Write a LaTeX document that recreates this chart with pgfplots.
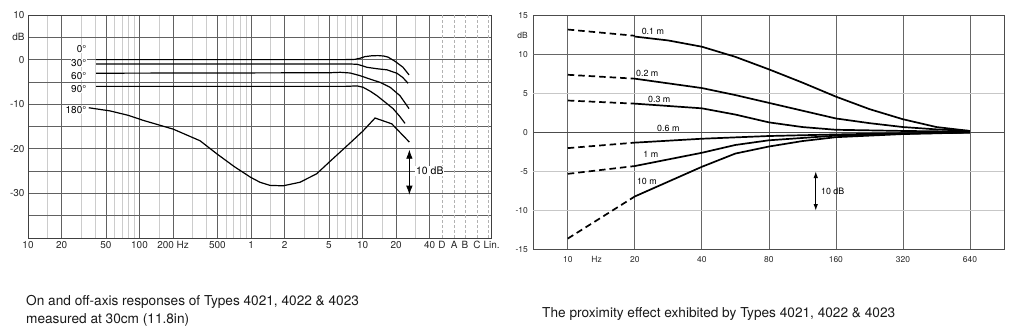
\documentclass[border=0pt]{standalone}
\usepackage{fontspec}
\setmainfont{TeX Gyre Heros}
\usepackage{pgfplots}
\pgfplotsset{compat=1.18}
\usetikzlibrary{arrows.meta}

\begin{document}
\begin{tikzpicture}[x=1bp,y=1bp]
\useasboundingbox (0,0) rectangle (1024,330);
% ---------------- left chart ----------------
\begin{axis}[
  at={(28bp,92bp)}, anchor=south west,
  scale only axis, width=463bp, height=223bp,
  xmin=1, xmax=5.152, ymin=-40, ymax=10,
  clip=false,
  axis line style={draw=black!75, line width=0.8bp},
  major tick length=0pt, minor tick length=0pt,
  grid=both,
  major grid style={draw=black!62, line width=0.7bp},
  minor grid style={draw=black!20, line width=0.8bp},
  xtick={1,1.30103,1.69897,2,2.30103,2.69897,3,3.30103,3.69897,4,4.30103,4.60206},
  xticklabels={10,20,50,100,200 Hz,500,1,2,5,10,20,40},
  minor xtick={1.17609,1.47712,1.60206,1.77815,1.84510,1.90309,1.95424,
               2.17609,2.47712,2.60206,2.77815,2.84510,2.90309,2.95424,
               3.17609,3.47712,3.60206,3.77815,3.84510,3.90309,3.95424,
               4.17609,4.47712},
  extra x ticks={4.713,4.821,4.919,5.027,5.126},
  extra x tick labels={D,A,B,C,\hspace*{7bp}Lin.},
  extra x tick style={grid=major, major grid style={draw=black!30, dash pattern=on 3bp off 2bp, line width=0.7bp}},
  ytick={-40,-35,...,10},
  yticklabels={,,-30,,-20,,-10,,0,dB,10},
  tick label style={font=\fontsize{10}{12}\selectfont, text=black!85},
]
\addplot[black, line width=1.2bp] coordinates {(1.61,0) (3.85,0) (3.93,0.05) (3.978,0.3) (4.022,0.67) (4.08,0.85) (4.139,0.9) (4.19,0.8) (4.229,0.56) (4.291,-0.38) (4.363,-1.73) (4.417,-3.43)};
\addplot[black, line width=1.2bp] coordinates {(1.61,-1.0) (3.90,-1.0) (3.951,-1.05) (4.00,-1.4) (4.040,-1.73) (4.13,-2.05) (4.220,-2.3) (4.309,-3.07) (4.36,-4.0) (4.408,-5.3)};
\addplot[black, line width=1.2bp] coordinates {(1.61,-3.05) (3.70,-2.95) (3.80,-2.85) (3.888,-3.0) (3.978,-3.6) (4.07,-4.4) (4.157,-5.1) (4.247,-6.2) (4.336,-8.1) (4.417,-11.0)};
\addplot[black, line width=1.2bp] coordinates {(1.61,-6.0) (3.85,-6.0) (3.951,-5.9) (4.004,-6.2) (4.07,-7.1) (4.130,-8.1) (4.220,-9.9) (4.274,-11.0) (4.336,-12.8) (4.381,-14.3)};
\addplot[black, line width=1.2bp] coordinates {(1.545,-10.8) (1.735,-11.5) (1.90,-12.5) (2.03,-13.6) (2.303,-15.6) (2.543,-18.2) (2.692,-21.1) (2.85,-24.0) (2.997,-26.4) (3.08,-27.5) (3.170,-28.2) (3.287,-28.3) (3.439,-27.5) (3.589,-25.6) (3.709,-22.8) (3.888,-18.7) (4.004,-16.0) (4.112,-13.1) (4.262,-14.4) (4.420,-18.5)};
\begin{scope}[every node/.style={anchor=east, fill=white, inner sep=0.6bp, font=\fontsize{10}{12}\selectfont}]
\node at (axis cs:1.53,2.4) {0°};
\node at (axis cs:1.53,-0.75) {30°};
\node at (axis cs:1.53,-3.6) {60°};
\node at (axis cs:1.53,-6.65) {90°};
\node at (axis cs:1.53,-11.3) {180°};
\end{scope}
\draw[black, line width=0.8bp, {Latex[length=9bp,width=6.5bp]}-{Latex[length=9bp,width=6.5bp]}] (axis cs:4.42,-20.2) -- (axis cs:4.42,-30.3);
\node[anchor=west, fill=white, inner sep=1bp, font=\fontsize{10.5}{12}\selectfont] at (axis cs:4.47,-25) {10 dB};
\end{axis}
% ---------------- right chart ----------------
\begin{axis}[
  at={(533.3bp,80.5bp)}, anchor=south west,
  scale only axis, width=471bp, height=234bp,
  xmin=-0.514, xmax=6.513, ymin=-15, ymax=15,
  clip=false,
  axis line style={draw=black!70, line width=0.8bp},
  major tick length=0pt,
  xtick={0,...,6}, xticklabels={10,20,40,80,160,320,640},
  xmajorgrids, major grid style={draw=black!60, line width=0.7bp},
  extra x ticks={0.43}, extra x tick labels={Hz}, extra x tick style={grid=none},
  ytick={-15,-10,-5,0,5,10,12.5,15}, yticklabels={-15,-10,-5,0,5,10,dB,15},
  tick label style={font=\fontsize{8.5}{10}\selectfont, text=black!85},
  xticklabel style={yshift=-3bp}, yticklabel style={xshift=-2bp},
]
\draw[black!60, line width=0.7bp] (axis cs:-0.514,10) -- (axis cs:6.513,10);
\draw[black!70, line width=0.7bp] (axis cs:-0.514,0) -- (axis cs:6.513,0);
\draw[black!22, line width=1.1bp] (axis cs:-0.514,5) -- (axis cs:6.513,5);
\draw[black!22, line width=1.1bp] (axis cs:-0.514,-5) -- (axis cs:6.513,-5);
\draw[black!22, line width=1.1bp] (axis cs:-0.514,-10) -- (axis cs:6.513,-10);
% dashed extrapolations
\addplot[black, line width=1.7bp, dash pattern=on 6.5bp off 4bp] coordinates {(0,13.2) (1,12.4)};
\addplot[black, line width=1.7bp, dash pattern=on 6.5bp off 4bp] coordinates {(0,7.4) (1,6.9)};
\addplot[black, line width=1.7bp, dash pattern=on 6.5bp off 4bp] coordinates {(0,4.1) (1,3.7)};
\addplot[black, line width=1.7bp, dash pattern=on 6.5bp off 4bp] coordinates {(0,-2.0) (1,-1.3)};
\addplot[black, line width=1.7bp, dash pattern=on 6.5bp off 4bp] coordinates {(0,-5.3) (1,-4.3)};
\addplot[black, line width=1.7bp, dash pattern=on 6.5bp off 4bp] coordinates {(0,-13.6) (1,-8.2)};
% measured
\addplot[black, line width=1.7bp] coordinates {(1,12.3) (1.5,11.8) (2,11.0) (2.5,9.7) (3,8.1) (3.5,6.4) (4,4.6) (4.5,3.0) (5,1.7) (5.5,0.7) (6,0.2)};
\addplot[black, line width=1.7bp] coordinates {(1,6.9) (2,5.7) (2.5,4.8) (3,3.8) (3.5,2.8) (4,1.8) (4.5,1.2) (5,0.7) (5.5,0.4) (6,0.2)};
\addplot[black, line width=1.7bp] coordinates {(1,3.7) (2,3.1) (2.5,2.3) (3,1.3) (3.5,0.7) (4,0.35) (5,0.2) (6,0.1)};
\addplot[black, line width=1.7bp] coordinates {(1,-1.3) (2,-0.8) (3,-0.45) (4,-0.25) (5,-0.1) (6,0)};
\addplot[black, line width=1.7bp] coordinates {(1,-4.3) (2,-2.6) (2.5,-1.6) (3,-1.0) (4,-0.4) (5,-0.15) (6,0)};
\addplot[black, line width=1.7bp] coordinates {(1,-8.2) (2,-4.4) (2.5,-2.7) (3,-1.8) (3.5,-1.1) (4,-0.6) (5,-0.2) (6,0)};
\begin{scope}[every node/.style={inner sep=0.5bp, font=\fontsize{8.9}{10}\selectfont}]
\node at (axis cs:1.27,13.0) {0.1 m};
\node at (axis cs:1.185,7.56) {0.2 m};
\node at (axis cs:1.365,4.23) {0.3 m};
\node at (axis cs:1.50,0.51) {0.6 m};
\node at (axis cs:1.24,-2.82) {1 m};
\node at (axis cs:1.18,-6.24) {10 m};
\end{scope}
\draw[black, line width=0.8bp, {Latex[length=6.5bp,width=4.5bp]}-{Latex[length=6.5bp,width=4.5bp]}] (axis cs:3.70,-5) -- (axis cs:3.70,-10);
\node[anchor=west, inner sep=0.5bp, font=\fontsize{8.9}{10}\selectfont] at (axis cs:3.77,-7.5) {10 dB};
\end{axis}
% ---------------- captions ----------------
\node[anchor=base west, inner sep=0pt, font=\fontsize{13.7}{16}\selectfont, text=black!90] at (26,25) {On and off-axis responses of Types 4021, 4022 \& 4023};
\node[anchor=base west, inner sep=0pt, font=\fontsize{13.7}{16}\selectfont, text=black!90] at (26,6.7) {measured at 30cm (11.8in)};
\node[anchor=base west, inner sep=0pt, font=\fontsize{13.7}{16}\selectfont, text=black!90] at (542,12.3) {The proximity effect exhibited by Types 4021, 4022 \& 4023};
\end{tikzpicture}
\end{document}
